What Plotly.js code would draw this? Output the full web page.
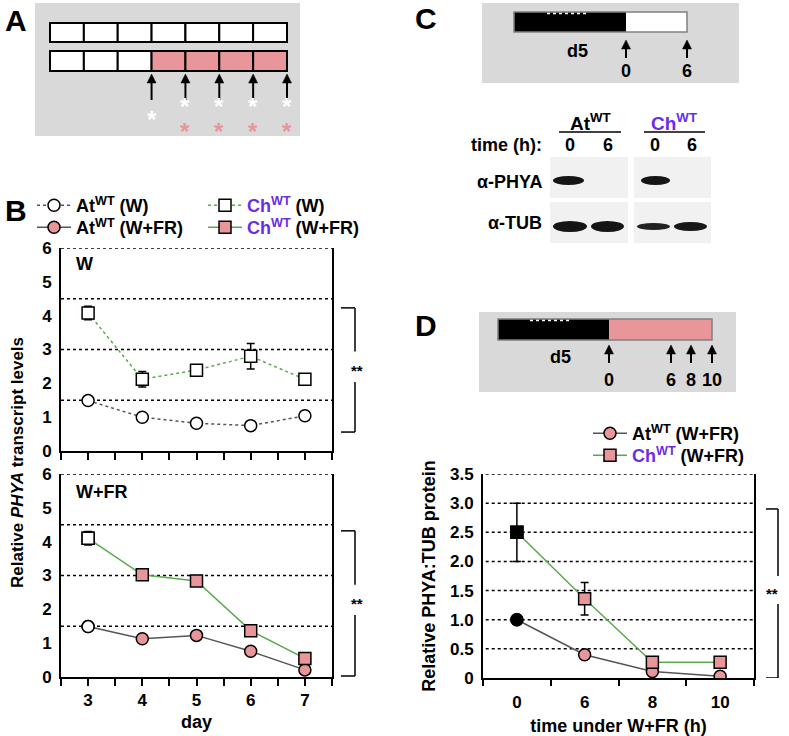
<!DOCTYPE html>
<html><head><meta charset="utf-8">
<script src="https://cdn.plot.ly/plotly-3.0.1.min.js"></script>
<style>html,body{margin:0;padding:0;background:#fff}#chart{width:789px;height:736px}</style>
</head><body><div id="chart"></div>
<script>
// ---------- data ----------
const days = [3, 4, 5, 6, 7];
const atW = [1.49, 1.00, 0.82, 0.75, 1.04];
const atWErr = [0.10, 0.04, 0.03, 0.03, 0.04];
const chW = [4.08, 2.12, 2.39, 2.80, 2.12];
const chWErr = [0.20, 0.23, 0.05, 0.38, 0.05];
const atFR = [1.49, 1.13, 1.23, 0.76, 0.21];
const atFRErr = [0.10, 0.05, 0.05, 0.05, 0.05];
const chFR = [4.10, 3.02, 2.84, 1.37, 0.55];
const chFRErr = [0.20, 0.05, 0.05, 0.12, 0.05];
const timeLabels = ['0', '6', '8', '10'];
const atD = [1.00, 0.40, 0.11, 0.03];
const chD = [2.50, 1.36, 0.27, 0.27];
const chDErr = [0.50, 0.28, 0.02, 0.02];
const gridB = [1.5, 3, 4.5, 6];
const gridD = [0.5, 1.0, 1.5, 2.0, 2.5, 3.0, 3.5];
const tickD = [0, 0.5, 1.0, 1.5, 2.0, 2.5, 3.0, 3.5];
const tickDText = ['0', '0.5', '1.0', '1.5', '2.0', '2.5', '3.0', '3.5'];

// ---------- styling ----------
const W = 789, H = 736;
const px = x => x / W, py = y => 1 - y / H;
const FONT = 'Liberation Sans, Arial, sans-serif';
const PINK = '#e8969a', GREEN = '#5aaa4c', GREY = '#555555', PURPLE = '#6a2ee6';
const xi = Array.from(timeLabels.keys());
const AT = 'At<sup>WT</sup>';
const CH = '<span style="color:' + PURPLE + '">Ch<sup>WT</sup></span>';

const mk = (sym, col) => ({symbol: sym, size: 12, color: col, line: {color: 'black', width: 1.5}});
const eb = arr => ({type: 'data', array: arr, visible: true, color: 'black', thickness: 1.5, width: 4});

const traces = [
  {x: days, y: atW, xaxis: 'x', yaxis: 'y', mode: 'lines+markers', name: AT + ' (W)', legend: 'legend',
   line: {color: GREY, width: 1.5, dash: 'dot'}, marker: mk('circle', 'white'), error_y: eb(atWErr)},
  {x: days, y: chW, xaxis: 'x', yaxis: 'y', mode: 'lines+markers', name: CH + ' (W)', legend: 'legend',
   line: {color: GREEN, width: 1.5, dash: 'dot'}, marker: mk('square', 'white'), error_y: eb(chWErr)},
  {x: days, y: atFR, xaxis: 'x2', yaxis: 'y2', mode: 'lines+markers', name: AT + ' (W+FR)', legend: 'legend2',
   line: {color: GREY, width: 1.5}, marker: mk('circle', PINK), error_y: eb(atFRErr)},
  {x: days, y: chFR, xaxis: 'x2', yaxis: 'y2', mode: 'lines+markers', name: CH + ' (W+FR)', legend: 'legend2',
   line: {color: GREEN, width: 1.5}, marker: mk('square', PINK), error_y: eb(chFRErr)},
  // day-3 points are before FR: white
  {x: days.slice(0, 1), y: atFR.slice(0, 1), xaxis: 'x2', yaxis: 'y2', mode: 'markers', showlegend: false,
   marker: mk('circle', 'white'), hoverinfo: 'skip'},
  {x: days.slice(0, 1), y: chFR.slice(0, 1), xaxis: 'x2', yaxis: 'y2', mode: 'markers', showlegend: false,
   marker: mk('square', 'white'), hoverinfo: 'skip'},
  {x: xi, y: atD, xaxis: 'x3', yaxis: 'y3', mode: 'lines+markers', name: AT + ' (W+FR)', legend: 'legend3',
   line: {color: GREY, width: 1.5}, marker: mk('circle', PINK)},
  {x: xi, y: chD, xaxis: 'x3', yaxis: 'y3', mode: 'lines+markers', name: CH + ' (W+FR)', legend: 'legend4',
   line: {color: GREEN, width: 1.5}, marker: mk('square', PINK), error_y: eb(chDErr)},
  // time 0 reference points: black
  {x: xi.slice(0, 1), y: atD.slice(0, 1), xaxis: 'x3', yaxis: 'y3', mode: 'markers', showlegend: false,
   marker: mk('circle', 'black'), hoverinfo: 'skip'},
  {x: xi.slice(0, 1), y: chD.slice(0, 1), xaxis: 'x3', yaxis: 'y3', mode: 'markers', showlegend: false,
   marker: mk('square', 'black'), hoverinfo: 'skip'}
];

const tickF = {family: FONT, size: 17, color: 'black', weight: 700};
const xB = (anchor, labels) => ({
  domain: [px(61), px(332)], anchor: anchor, range: [2.5, 7.5], dtick: 1, tick0: 0,
  showline: true, linewidth: 2, linecolor: 'black', ticks: 'outside', ticklen: 7, tickwidth: 2, tickcolor: 'black',
  minor: {dtick: 0.5, tick0: 0, ticks: 'outside', ticklen: 7, tickwidth: 2, tickcolor: 'black'},
  showticklabels: labels, tickfont: tickF, showgrid: false, zeroline: false, fixedrange: true
});
const yB = (anchor, top, bot) => ({
  domain: [py(bot), py(top)], anchor: anchor, range: [0, 6], dtick: 1, tick0: 0,
  showline: true, mirror: true, linewidth: 2, linecolor: 'black', ticks: '',
  tickfont: tickF, showgrid: false, zeroline: false, ticklabelstandoff: 4
});

const shapes = [];
const annotations = [];
const rect = (x0, y0, x1, y1, fill, lc, lw) => shapes.push({type: 'rect', xref: 'paper', yref: 'paper',
  x0: px(x0), x1: px(x1), y0: py(y1), y1: py(y0), fillcolor: fill, line: {color: lc || fill, width: lw || 0}, layer: 'below'});
const ell = (x0, y0, x1, y1, fill) => shapes.push({type: 'circle', xref: 'paper', yref: 'paper',
  x0: px(x0), x1: px(x1), y0: py(y1), y1: py(y0), fillcolor: fill, line: {width: 0}, layer: 'below'});
const lineP = (x0, y0, x1, y1, col, w, dash) => shapes.push({type: 'line', xref: 'paper', yref: 'paper',
  x0: px(x0), x1: px(x1), y0: py(y0), y1: py(y1), line: {color: col, width: w, dash: dash || 'solid'}});
const txt = (x, y, t, size, opts) => annotations.push(Object.assign({xref: 'paper', yref: 'paper', x: px(x), y: py(y),
  text: t, showarrow: false, font: {family: FONT, size: size, color: 'black', weight: 700}, xanchor: 'center', yanchor: 'middle'}, opts || {}));
// upward arrow drawn as shaft + triangular head
const arrow = (x, yHead, yTail) => {
  lineP(x, yHead + 7, x, yTail, 'black', 2);
  shapes.push({type: 'path', xref: 'paper', yref: 'paper',
    path: 'M' + px(x - 4.5) + ',' + py(yHead + 9) + ' L' + px(x) + ',' + py(yHead) + ' L' + px(x + 4.5) + ',' + py(yHead + 9) + ' Z',
    fillcolor: 'black', line: {color: 'black', width: 0.5}});
};

// gridlines (dotted) through the data scales
gridB.forEach(v => {
  ['y', 'y2'].forEach((ya, i) => shapes.push({type: 'line', xref: (i ? 'x2' : 'x') + ' domain', yref: ya, x0: 0, x1: 1, y0: v, y1: v,
    line: {color: 'black', width: 1.5, dash: 'dot'}, layer: 'below'}));
});
gridD.forEach(v => shapes.push({type: 'line', xref: 'x3 domain', yref: 'y3', x0: 0.01, x1: 1, y0: v, y1: v,
  line: {color: 'black', width: 1.5, dash: 'dot'}, layer: 'below'}));

// significance brackets
function bracket(ya, top, bot, mid, gap, xv, xh) {
  const L = (x0, y0, x1, y1) => shapes.push({type: 'line', xref: 'paper', yref: ya, x0: px(x0), x1: px(x1), y0: y0, y1: y1,
    line: {color: 'black', width: 1.5}});
  L(xh, top, xv, top); L(xv, top, xv, mid + gap); L(xv, mid - gap, xv, bot); L(xv, bot, xh, bot);
  annotations.push({xref: 'paper', yref: ya, x: px(xv + 2), y: mid, text: '**', showarrow: false,
    font: {family: FONT, size: 15, color: 'black', weight: 700}, yanchor: 'middle', yshift: -4});
}
bracket('y', 4.23, 0.56, 2.49, 0.45, 355, 341);
bracket('y2', 4.32, 0.03, 2.28, 0.45, 355, 341);
bracket('y3', 2.90, 0.0, 1.51, 0.24, 778, 766);

// ---------- panel A schematic ----------
rect(35, 3, 300, 136, '#d9d9d9');
const cw = (287 - 50) / 7;
for (let i = 0; i < 7; i++) {
  rect(50 + i * cw, 23, 50 + (i + 1) * cw, 42, 'white', 'black', 2);
  rect(50 + i * cw, 51, 50 + (i + 1) * cw, 71, i < 3 ? 'white' : PINK, 'black', 2);
}
for (let i = 3; i <= 7; i++) {
  const x = 50 + i * cw;
  arrow(x, 74, 100);
  txt(x, i === 3 ? 119 : 106, '*', 24, {font: {family: FONT, size: 24, color: 'white', weight: 700}});
  if (i > 3) txt(x, 131, '*', 24, {font: {family: FONT, size: 24, color: PINK, weight: 700}});
}

// ---------- panel C ----------
rect(482, 3, 739, 83, '#d9d9d9');
rect(514, 12, 626, 32, 'black');
rect(626, 12, 687, 32, 'white');
shapes.push({type: 'rect', xref: 'paper', yref: 'paper', x0: px(514), x1: px(687), y0: py(32), y1: py(12),
  line: {color: '#808080', width: 1.5}, layer: 'below'});
lineP(547, 13.5, 588, 13.5, 'white', 1.5, 'dot');
arrow(626, 40, 58); arrow(687, 40, 58);
txt(577, 51, 'd5', 18); txt(626, 71, '0', 18); txt(687, 71, '6', 18);

txt(590, 122, AT, 19);
txt(674, 122, CH, 19);
lineP(559, 132, 621, 132, 'black', 1.5);
lineP(644, 132, 705, 132, 'black', 1.5);
txt(544, 145, 'time (h):', 18, {xanchor: 'right'});
txt(570, 145, '0', 18); txt(608, 145, '6', 18); txt(655, 145, '0', 18); txt(692, 145, '6', 18);
txt(544, 182, 'α-PHYA', 18, {xanchor: 'right'});
txt(544, 223, 'α-TUB', 18, {xanchor: 'right'});
rect(550, 157, 628, 198, '#f1f1f1'); rect(634, 157, 711, 198, '#f1f1f1');
rect(550, 202, 628, 243, '#f1f1f1'); rect(634, 202, 711, 243, '#f1f1f1');
ell(553, 176, 584, 185, '#151515'); ell(641, 176, 670, 185, '#151515');
ell(553, 221, 587, 232, '#151515'); ell(591, 221, 624, 232, '#151515');
ell(637, 223, 670, 230, '#222222'); ell(674, 222, 707, 231, '#181818');

// ---------- panel D schematic ----------
rect(479, 312, 736, 392, '#d9d9d9');
rect(498, 319, 609, 340, 'black');
rect(609, 319, 712, 340, PINK);
shapes.push({type: 'rect', xref: 'paper', yref: 'paper', x0: px(498), x1: px(712), y0: py(340), y1: py(319),
  line: {color: '#808080', width: 1.5}, layer: 'below'});
lineP(530, 320.5, 572, 320.5, 'white', 1.5, 'dot');
arrow(609, 345, 363); arrow(671, 345, 363); arrow(691, 345, 363); arrow(712, 345, 363);
txt(560, 357, 'd5', 18); txt(609, 380, '0', 18); txt(671, 380, '6', 18); txt(691, 380, '8', 18); txt(712, 380, '10', 18);

// panel letters
txt(16, 20, 'A', 30); txt(16, 210, 'B', 30); txt(426, 18, 'C', 30); txt(426, 325, 'D', 30);
// panel inner labels
txt(74, 264, 'W', 18, {xanchor: 'left'});
txt(74, 492, 'W+FR', 18, {xanchor: 'left'});
// B y-title
txt(17, 463, 'Relative <i>PHYA</i> transcript levels', 17, {textangle: -90});

const legBase = {orientation: 'h', xanchor: 'left', yanchor: 'top', bgcolor: 'rgba(0,0,0,0)',
  font: {family: FONT, size: 18, color: 'black', weight: 700}, entrywidth: 122, entrywidthmode: 'pixels',
  itemwidth: 34, tracegroupgap: 0, itemclick: false};

const layout = {
  width: W, height: H, margin: {l: 0, r: 0, t: 0, b: 0}, paper_bgcolor: 'white', plot_bgcolor: 'rgba(0,0,0,0)',
  font: {family: FONT, size: 16, color: 'black', weight: 700},
  showlegend: true,
  legend: Object.assign({}, legBase, {x: px(32), y: py(187)}),
  legend2: Object.assign({}, legBase, {x: px(32), y: py(209)}),
  legend3: Object.assign({}, legBase, {x: px(588), y: py(415)}),
  legend4: Object.assign({}, legBase, {x: px(588), y: py(437)}),
  xaxis: xB('y', false),
  yaxis: yB('x', 248, 451),
  xaxis2: Object.assign(xB('y2', true), {title: {text: 'day', font: {family: FONT, size: 18, color: 'black', weight: 700}, standoff: 6}}),
  yaxis2: yB('x2', 474, 677),
  xaxis3: {domain: [px(483), px(754)], anchor: 'y3', range: [-0.5, 3.5], tickmode: 'array', tickvals: xi, ticktext: timeLabels,
    ticks: '', showline: true, linewidth: 2, linecolor: 'black', tickfont: {family: FONT, size: 17, color: 'black', weight: 700},
    minor: {tickmode: 'array', tickvals: [-0.5, 0.5, 1.5, 2.5, 3.5], ticks: 'outside', ticklen: 6, tickwidth: 2, tickcolor: 'black'},
    showgrid: false, zeroline: false, ticklabelstandoff: 8,
    title: {text: 'time under W+FR (h)', font: {family: FONT, size: 18, color: 'black', weight: 700}, standoff: 8}},
  yaxis3: {domain: [py(678), py(474)], anchor: 'x3', range: [0, 3.5], tickmode: 'array', tickvals: tickD, ticktext: tickDText,
    ticks: '', showline: true, mirror: true, linewidth: 2, linecolor: 'black', tickfont: {family: FONT, size: 17, color: 'black', weight: 700},
    showgrid: false, zeroline: false, ticklabelstandoff: 4,
    title: {text: 'Relative PHYA:TUB protein', font: {family: FONT, size: 18, color: 'black', weight: 700}, standoff: 10}},
  shapes: shapes,
  annotations: annotations
};

Plotly.newPlot('chart', traces, layout, {displayModeBar: false, staticPlot: true});
</script>
</body></html>
